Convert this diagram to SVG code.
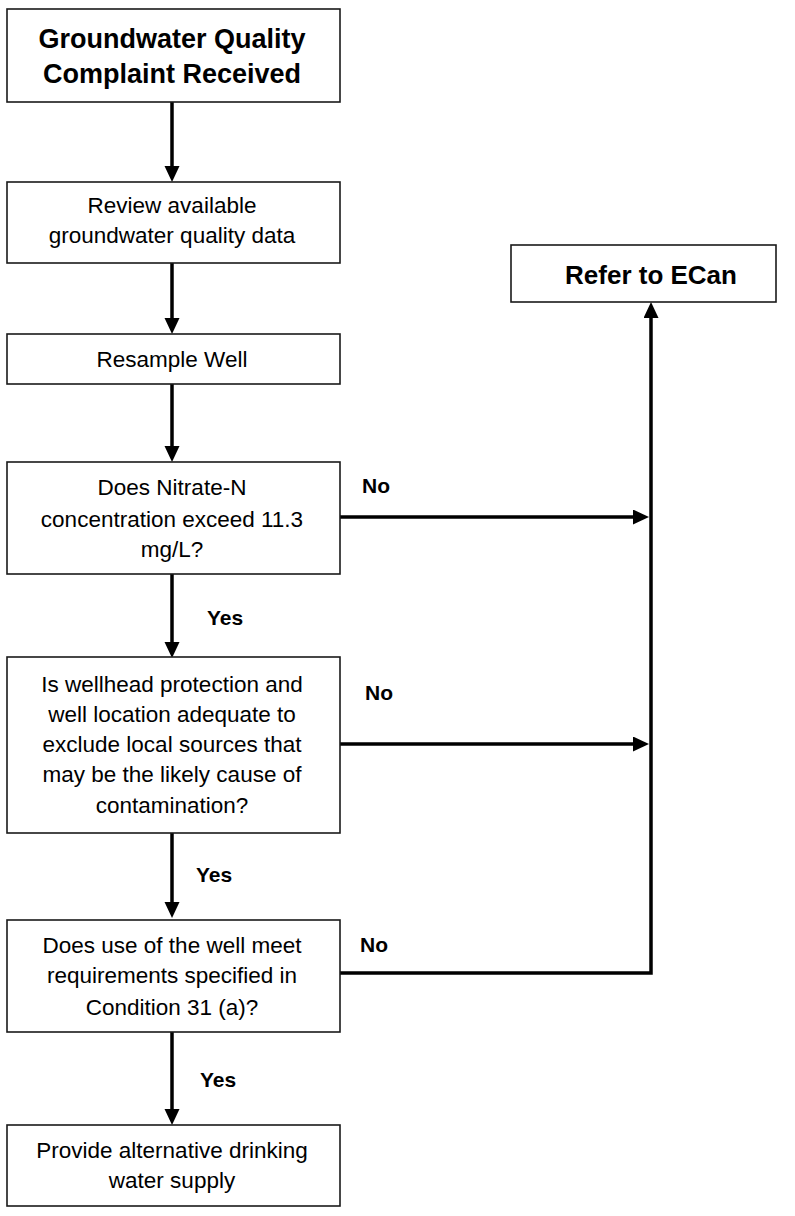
<svg xmlns="http://www.w3.org/2000/svg" width="795" height="1216" viewBox="0 0 795 1216">
<defs>
<style>
.box{fill:#fff;stroke:#1a1a1a;stroke-width:1.6}
.t{font-family:"Liberation Sans",Arial,sans-serif;font-size:22.5px;fill:#000;text-anchor:middle}
.tb{font-family:"Liberation Sans",Arial,sans-serif;font-size:27px;font-weight:bold;fill:#000;text-anchor:middle}
.lbl{font-family:"Liberation Sans",Arial,sans-serif;font-size:21px;font-weight:bold;fill:#000}
.c{fill:none;stroke:#000;stroke-width:3.5}
</style>
<marker id="ah" markerUnits="userSpaceOnUse" markerWidth="18" markerHeight="18" refX="7" refY="7.5" orient="auto">
<path d="M0,0 L16,7.5 L0,15 Z" fill="#000"/>
</marker>
</defs>
<rect width="795" height="1216" fill="#fff"/>
<g id="connectors">
<path class="c" d="M172,102 V173" marker-end="url(#ah)"/>
<path class="c" d="M172,263 V325" marker-end="url(#ah)"/>
<path class="c" d="M172,384 V453" marker-end="url(#ah)"/>
<path class="c" d="M172,574 V649" marker-end="url(#ah)"/>
<path class="c" d="M172,833 V909" marker-end="url(#ah)"/>
<path class="c" d="M172,1032 V1116" marker-end="url(#ah)"/>
<path class="c" d="M340,517 H640" marker-end="url(#ah)"/>
<path class="c" d="M340,744 H640" marker-end="url(#ah)"/>
<path class="c" d="M340,973 H651 V311" marker-end="url(#ah)"/>
<text class="lbl" x="362" y="493">No</text>
<text class="lbl" x="207" y="625">Yes</text>
<text class="lbl" x="365" y="700">No</text>
<text class="lbl" x="196" y="882">Yes</text>
<text class="lbl" x="360" y="952">No</text>
<text class="lbl" x="200" y="1087">Yes</text>
</g>
<g id="n-complaint">
<rect class="box" x="7" y="9" width="333" height="93"/>
<text class="tb" x="172" y="48">Groundwater Quality</text>
<text class="tb" x="172" y="83">Complaint Received</text>
</g>
<g id="n-review">
<rect class="box" x="7" y="182" width="333" height="81"/>
<text class="t" x="172" y="213">Review available</text>
<text class="t" x="172" y="243">groundwater quality data</text>
</g>
<g id="n-resample">
<rect class="box" x="7" y="334" width="333" height="50"/>
<text class="t" x="172" y="367">Resample Well</text>
</g>
<g id="n-nitrate">
<rect class="box" x="7" y="462" width="333" height="112"/>
<text class="t" x="172" y="495">Does Nitrate-N</text>
<text class="t" x="172" y="527">concentration exceed 11.3</text>
<text class="t" x="172" y="557">mg/L?</text>
</g>
<g id="n-wellhead">
<rect class="box" x="7" y="657" width="333" height="176"/>
<text class="t" x="172" y="692">Is wellhead protection and</text>
<text class="t" x="172" y="722">well location adequate to</text>
<text class="t" x="172" y="752">exclude local sources that</text>
<text class="t" x="172" y="782">may be the likely cause of</text>
<text class="t" x="172" y="813">contamination?</text>
</g>
<g id="n-condition">
<rect class="box" x="7" y="920" width="333" height="112"/>
<text class="t" x="172" y="953">Does use of the well meet</text>
<text class="t" x="172" y="983">requirements specified in</text>
<text class="t" x="172" y="1015">Condition 31 (a)?</text>
</g>
<g id="n-provide">
<rect class="box" x="7" y="1125" width="333" height="81"/>
<text class="t" x="172" y="1158">Provide alternative drinking</text>
<text class="t" x="172" y="1188">water supply</text>
</g>
<g id="n-ecan">
<rect class="box" x="511" y="245" width="265" height="57"/>
<text class="tb" x="651" y="284" style="font-size:26px">Refer to ECan</text>
</g>
</svg>
